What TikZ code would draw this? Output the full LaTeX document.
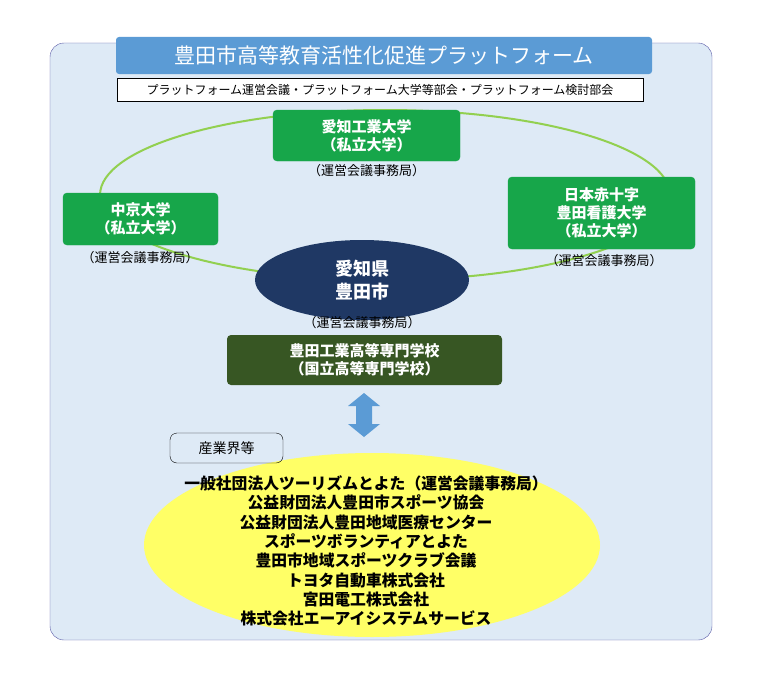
\documentclass[tikz,border=0pt]{standalone}
\usepackage{fontspec}
\setmainfont{Noto Sans CJK JP}
\usetikzlibrary{shapes.geometric}
\definecolor{bgblue}{HTML}{DEEAF6}
\definecolor{titleblue}{HTML}{5B9BD5}
\definecolor{unigreen}{HTML}{17A64A}
\definecolor{ringgreen}{HTML}{92D050}
\definecolor{navy}{HTML}{1F3864}
\definecolor{dkgreen}{HTML}{375623}
\definecolor{yel}{HTML}{FFFF66}
\tikzset{
  unibox/.style={draw=unigreen, fill=unigreen, rounded corners=4pt, text=white, font=\bfseries\fontsize{15}{18}\selectfont, align=center},
  office/.style={font=\fontsize{13}{15}\selectfont}
}
\begin{document}
\begin{tikzpicture}[x=1pt, y=-1pt]
    \useasboundingbox (0,0) rectangle (757,685);
    % Background frame
    \draw[fill=bgblue, draw=gray!70!blue, rounded corners=14pt] (50,43) rectangle (712,640);
    \node (title) [fill=titleblue, rounded corners=3pt, minimum width=536pt, minimum height=37pt, text=white, font=\fontsize{21}{24}\selectfont] at (384,55.5) {豊田市高等教育活性化促進プラットフォーム};
    \node (meetings) [draw, fill=white, minimum width=526pt, minimum height=23pt, font=\fontsize{12}{14}\selectfont, inner sep=0pt] at (380,89.5) {プラットフォーム運営会議・プラットフォーム大学等部会・プラットフォーム検討部会};

    % Ring
    \draw[ringgreen, line width=2pt] (385,195) ellipse (285pt and 85pt);

    % Nodes
    \node (ait) [unibox, minimum width=187pt, minimum height=51pt] at (366.5,135.5) {愛知工業大学\\（私立大学）};
    \node (aitoff) [office, below=0pt] at (ait.south) {（運営会議事務局）};
    \node (chukyo) [unibox, minimum width=155pt, minimum height=52pt] at (140.5,219) {中京大学\\（私立大学）};
    \node (chukyooff) [office] at (140,258) {（運営会議事務局）};
    \node (jrc) [unibox, minimum width=187pt, minimum height=72pt] at (601.5,213) {日本赤十字\\豊田看護大学\\（私立大学）};
    \node (jrcoff) [office] at (604,261) {（運営会議事務局）};
    \node (city) [ellipse, fill=navy, minimum width=214pt, minimum height=80pt, text=white, align=center, font=\bfseries\fontsize{18}{23}\selectfont] at (362,280) {愛知県\\豊田市};
    \node (cityoff) [office] at (362,323) {（運営会議事務局）};
    \node (nct) [fill=dkgreen, rounded corners=4pt, minimum width=275pt, minimum height=50pt, text=white, align=center, font=\bfseries\fontsize{15}{18}\selectfont] at (364.5,360) {豊田工業高等専門学校\\（国立高等専門学校）};

    % Industry
    \node (ind) [ellipse, fill=yel, minimum width=456pt, minimum height=184pt] at (372,545) {};
    \node (indlabel) [draw, rounded corners=7pt, minimum width=113pt, minimum height=30pt, font=\fontsize{14}{16}\selectfont] at (226.5,448) {産業界等};
    \node (members) [align=center, font=\bfseries\fontsize{15.8}{19.3}\selectfont] at (366,551) {一般社団法人ツーリズムとよた（運営会議事務局）\\公益財団法人豊田市スポーツ協会\\公益財団法人豊田地域医療センター\\スポーツボランティアとよた\\豊田市地域スポーツクラブ会議\\トヨタ自動車株式会社\\宮田電工株式会社\\株式会社エーアイシステムサービス};

    % Double arrow
    \coordinate (arr) at (364,415);
    \fill[titleblue] (arr) ++(0,-22) -- ++(16,13) -- ++(-8,0) -- ++(0,18) -- ++(8,0) -- ++(-16,13) -- ++(-16,-13) -- ++(8,0) -- ++(0,-18) -- ++(-8,0) -- cycle;
\end{tikzpicture}
\end{document}
